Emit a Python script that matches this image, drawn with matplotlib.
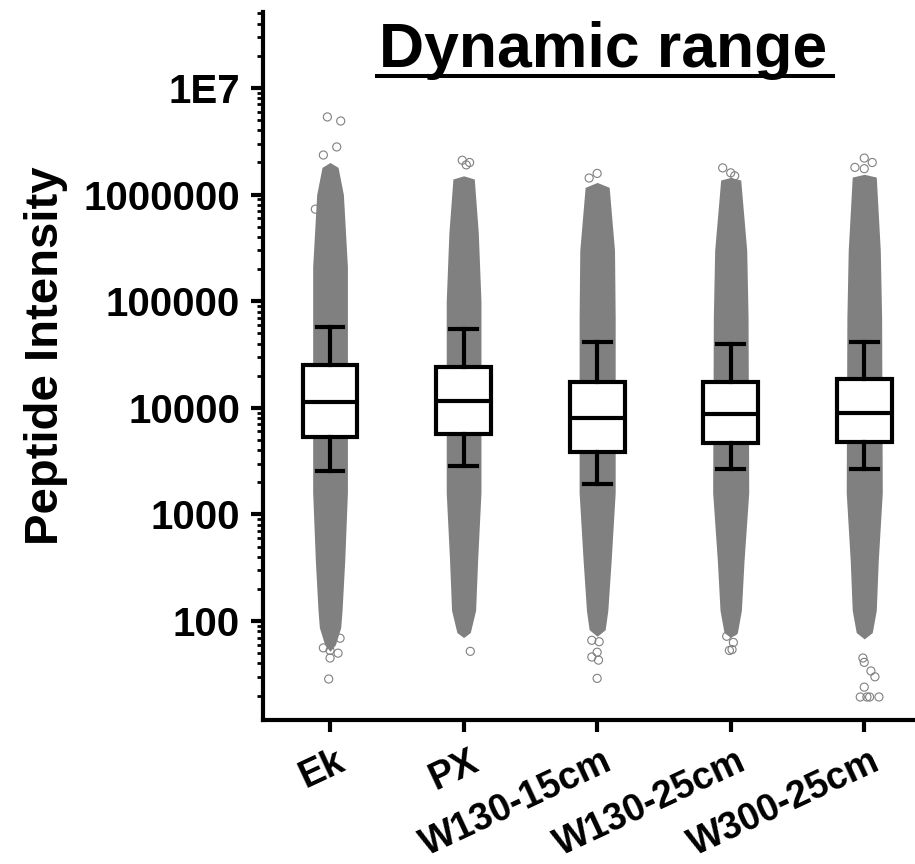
import matplotlib
matplotlib.use("Agg")
import matplotlib.pyplot as plt
import numpy as np
from matplotlib import ticker
from matplotlib.lines import Line2D

plt.rcParams['font.family'] = ['Liberation Sans', 'DejaVu Sans']
plt.rcParams['font.weight'] = 'bold'

groups = ['Ek', 'PX', 'W130-15cm', 'W130-25cm', 'W300-25cm']

# box statistics (whisker low, Q1, median, Q3, whisker high)
whisker_low = [2550, 2850, 1930, 2670, 2670]
q1 = [5320, 5670, 3850, 4680, 4780]
median = [11300, 11600, 8020, 8750, 8930]
q3 = [25200, 24200, 17500, 17500, 18600]
whisker_high = [57300, 54800, 41400, 39700, 41400]

# outline of the dense dot cloud: intensity level and half width (x units)
cloud_level = [
    [2.0e6, 1.8e6, 1.0e6, 2.1e5, 5.0e4, 1.6e3, 370, 126, 87, 60, 52],
    [1.5e6, 1.4e6, 4.4e5, 1.0e5, 5.0e4, 1.6e3, 370, 126, 78, 70],
    [1.3e6, 1.17e6, 3.0e5, 7.0e4, 1.6e3, 370, 126, 83, 72],
    [1.45e6, 1.37e6, 3.0e5, 7.0e4, 1.6e3, 370, 126, 78, 70],
    [1.55e6, 1.46e6, 3.0e5, 7.0e4, 1.6e3, 370, 126, 78, 68],
]
cloud_halfwidth = [
    [0.0, 0.06, 0.10, 0.13, 0.13, 0.13, 0.11, 0.09, 0.08, 0.04, 0.0],
    [0.0, 0.08, 0.11, 0.13, 0.13, 0.13, 0.105, 0.09, 0.05, 0.0],
    [0.0, 0.09, 0.13, 0.135, 0.135, 0.105, 0.08, 0.06, 0.0],
    [0.0, 0.075, 0.12, 0.13, 0.135, 0.10, 0.08, 0.05, 0.0],
    [0.0, 0.09, 0.12, 0.13, 0.135, 0.105, 0.09, 0.06, 0.0],
]

# isolated points outside the dense cloud: intensity and x offset from group centre
outlier_value = [
    [5.35e6, 4.9e6, 2.8e6, 2.35e6, 7.3e5, 69, 56, 53, 50, 45, 28.6],
    [2.1e6, 1.9e6, 2.0e6, 52],
    [1.58e6, 1.43e6, 1.1e6, 66, 64, 51, 46, 43, 29],
    [1.78e6, 1.6e6, 1.5e6, 72, 80, 63, 53, 54],
    [2.2e6, 2.0e6, 1.8e6, 1.75e6, 45, 41, 34, 30, 24, 19.4, 19.4, 19.4, 19.4],
]
outlier_offset = [
    [-0.02, 0.08, 0.05, -0.05, -0.11, 0.075, -0.05, 0.0, 0.06, 0.0, -0.01],
    [-0.01, 0.02, 0.045, 0.05],
    [0.0, -0.06, -0.02, -0.04, 0.015, 0.0, -0.04, 0.01, 0.0],
    [-0.06, 0.0, 0.03, -0.03, 0.02, 0.02, -0.01, 0.01],
    [0.0, 0.06, -0.07, 0.0, -0.01, 0.0, 0.05, 0.08, 0.0, -0.03, 0.02, 0.04, 0.11],
]

ytick_values = [100, 1000, 10000, 100000, 1000000, 10000000]
ytick_labels = ['100', '1000', '10000', '100000', '1000000', '1E7']

grey = '#808080'

fig = plt.figure(figsize=(9.15, 8.64), dpi=100)
ax = fig.add_axes([263/915, 144/864, 652/915, 708/864])

for i in range(len(groups)):
    lev = np.array(cloud_level[i])
    hw = np.array(cloud_halfwidth[i])
    ax.fill_betweenx(lev, i - hw, i + hw, color=grey, lw=0, zorder=1)
    ax.scatter(i + np.array(outlier_offset[i]), outlier_value[i], s=34,
               facecolors='none', edgecolors=grey, linewidths=0.8, zorder=2)

stats = []
for i in range(len(groups)):
    stats.append({'whislo': whisker_low[i], 'q1': q1[i], 'med': median[i],
                  'q3': q3[i], 'whishi': whisker_high[i], 'fliers': []})

ax.bxp(stats, positions=range(len(groups)), widths=0.41, patch_artist=True,
       showfliers=False,
       boxprops=dict(facecolor='white', edgecolor='black', linewidth=3),
       medianprops=dict(color='black', linewidth=3),
       whiskerprops=dict(color='black', linewidth=3),
       capprops=dict(color='black', linewidth=3),
       capwidths=0.2, zorder=3)

ax.set_yscale('log')
ax.set_ylim(11.8, 5.16e7)
ax.set_xlim(-0.502, 4.38)

ax.yaxis.set_major_locator(ticker.FixedLocator(ytick_values))
ax.yaxis.set_major_formatter(ticker.FixedFormatter(ytick_labels))
ax.yaxis.set_minor_locator(ticker.LogLocator(base=10, subs=np.arange(2, 10), numticks=20))
ax.yaxis.set_minor_formatter(ticker.NullFormatter())

# x tick marks only; the rotated group names are placed as annotations below
ax.set_xticks(range(len(groups)))
ax.set_xticklabels([])
for i, g in enumerate(groups):
    ax.annotate(g, xy=(i, 0), xycoords=ax.get_xaxis_transform(),
                xytext=(4, -17), textcoords='offset points',
                rotation=25, ha='right', va='top', rotation_mode='anchor',
                fontsize=27, fontweight='bold')

ax.tick_params(axis='y', which='major', length=8.6, width=3, labelsize=29, pad=8)
ax.tick_params(axis='y', which='minor', length=4.3, width=2)
ax.tick_params(axis='x', which='major', length=8.6, width=3)

for s in ['top', 'right']:
    ax.spines[s].set_visible(False)
for s in ['left', 'bottom']:
    ax.spines[s].set_linewidth(3)

fig.text(603.5/915, (864-67)/864, 'Dynamic range', ha='center', va='baseline',
         fontsize=45, fontweight='bold')
fig.add_artist(Line2D([377/915, 833/915], [(864-76)/864]*2, color='black',
                      lw=2.9, transform=fig.transFigure))
fig.text(46/915, (864-356)/864, 'Peptide Intensity', rotation=90, ha='center',
         va='center', fontsize=34, fontweight='bold')

fig.savefig('out.png', dpi=100)
